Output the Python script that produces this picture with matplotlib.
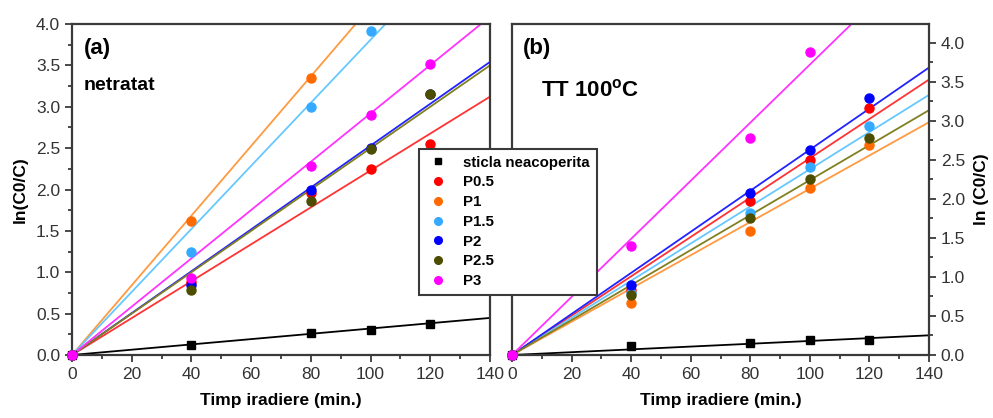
import matplotlib
matplotlib.use("Agg")
import matplotlib.pyplot as plt
from matplotlib.lines import Line2D
from matplotlib.ticker import MultipleLocator, FormatStrFormatter
import numpy as np

plt.rcParams['font.family'] = ['Liberation Sans', 'DejaVu Sans']
plt.rcParams['mathtext.fontset'] = 'custom'
plt.rcParams['mathtext.bf'] = 'Liberation Sans:bold'
plt.rcParams['mathtext.rm'] = 'Liberation Sans'

# ---------------- data ----------------
series = ["sticla neacoperita", "P0.5", "P1", "P1.5", "P2", "P2.5", "P3"]
colors = ["#000000", "#ff0000", "#ff6a00", "#33aaff", "#0000ff", "#4d4d00", "#ff00ff"]
line_colors = ["#000000", "#ff3333", "#ff9a40", "#66c8ff", "#2222ff", "#808020", "#ff33ff"]
markers = ["s", "o", "o", "o", "o", "o", "o"]

time_a = [0, 40, 80, 100, 120]
vals_a = {
    "sticla neacoperita": [0, 0.12, 0.27, 0.30, 0.38],
    "P0.5": [0, 0.88, 1.96, 2.25, 2.55],
    "P1": [0, 1.62, 3.35, None, None],
    "P1.5": [0, 1.24, 3.00, 3.91, None],
    "P2": [0, 0.85, 1.99, 2.50, 3.15],
    "P2.5": [0, 0.79, 1.86, 2.49, 3.15],
    "P3": [0, 0.93, 2.28, 2.90, 3.52],
}
slopes_a = [0.0032, 0.0223, 0.0421, 0.0381, 0.0253, 0.0250, 0.0292]

time_b = [0, 40, 80, 100, 120]
vals_b = {
    "sticla neacoperita": [0, 0.11, 0.15, 0.19, 0.19],
    "P0.5": [0, 0.83, 1.97, 2.50, 3.16],
    "P1": [0, 0.67, 1.59, 2.14, 2.69],
    "P1.5": [0, 0.80, 1.82, 2.41, 2.93],
    "P2": [0, 0.90, 2.07, 2.62, 3.29],
    "P2.5": [0, 0.77, 1.75, 2.26, 2.78],
    "P3": [0, 1.40, 2.78, 3.88, None],
}
slopes_b = [0.0018, 0.0252, 0.0213, 0.0238, 0.0263, 0.0224, 0.0372]

x_ticks = [0, 20, 40, 60, 80, 100, 120, 140]

# ---------------- figure ----------------
W, H = 993, 418
fig = plt.figure(figsize=(W / 100, H / 100), dpi=100)

def px_axes(x0, y0, x1, y1):
    return fig.add_axes([x0 / W, 1 - y1 / H, (x1 - x0) / W, (y1 - y0) / H])

ax_a = px_axes(72, 24, 490, 355)
ax_b = px_axes(512, 24, 929, 355)

spine_col = "#3a3a3a"
tick_col = "#333333"

def draw(ax, t, vals, slopes, ymax, right=False):
    xl = np.array([0, 140])
    for lc, s in zip(line_colors, slopes):
        ax.plot(xl, s * xl, color=lc, lw=1.3, zorder=2)
    for name, c, m in zip(series, colors, markers):
        xs = [tt for tt, v in zip(t, vals[name]) if v is not None]
        ys = [v for v in vals[name] if v is not None]
        ax.plot(xs, ys, linestyle="none", marker=m, color=c, ms=6.5 if m == "o" else 6,
                mec=c, zorder=3, clip_on=False)
    ax.set_xlim(0, 140)
    ax.set_ylim(0, ymax)
    ax.set_xticks(x_ticks)
    ax.xaxis.set_minor_locator(MultipleLocator(10))
    ax.yaxis.set_major_locator(MultipleLocator(0.5))
    ax.yaxis.set_minor_locator(MultipleLocator(0.25))
    for sp in ax.spines.values():
        sp.set_color(spine_col)
        sp.set_linewidth(1.6)
    ax.tick_params(which="both", direction="out", color=spine_col, width=1.3,
                   labelsize=12.5, labelcolor=tick_col, top=False)
    ax.tick_params(which="major", length=5)
    ax.tick_params(which="minor", length=3)
    if right:
        ax.yaxis.tick_right()
        ax.tick_params(axis="y", which="both", left=False, right=True)
    else:
        ax.tick_params(axis="y", which="both", right=False)
    ax.yaxis.set_major_formatter(FormatStrFormatter("%.1f"))
    ax.set_xlabel("Timp iradiere (min.)", fontsize=12.5, fontweight="bold", labelpad=8)

draw(ax_a, time_a, vals_a, slopes_a, 4.0)
draw(ax_b, time_b, vals_b, slopes_b, 4.24, right=True)

ax_a.set_ylabel("ln(C0/C)", fontsize=12.5, fontweight="bold", labelpad=6)
ax_b.yaxis.set_label_position("right")
ax_b.set_ylabel("ln (C0/C)", fontsize=12.5, fontweight="bold", labelpad=6, rotation=90)

ax_a.text(0.028, 0.925, "(a)", transform=ax_a.transAxes, fontsize=16, fontweight="bold",
          va="center", ha="left")
ax_a.text(0.028, 0.815, "netratat", transform=ax_a.transAxes, fontsize=14, fontweight="bold",
          va="center", ha="left")
ax_b.text(0.025, 0.925, "(b)", transform=ax_b.transAxes, fontsize=16, fontweight="bold",
          va="center", ha="left")
ax_b.text(0.07, 0.8, r"TT 100$^{\mathbf{o}}$C", transform=ax_b.transAxes, fontsize=16,
          fontweight="bold", va="center", ha="left")

handles = [Line2D([], [], linestyle="none", marker=m, color=c, mec=c, ms=5.5 if m == "o" else 5)
           for c, m in zip(colors, markers)]
leg = fig.legend(handles, series, loc="upper left", bbox_to_anchor=(419 / W, 1 - 149 / H),
                 borderaxespad=0, fancybox=False, framealpha=1, edgecolor=spine_col,
                 prop={"weight": "bold", "size": 10.8}, handletextpad=0.9, labelspacing=0.38,
                 borderpad=0.45, handlelength=1.6)
leg.get_frame().set_linewidth(1.5)
leg.set_zorder(10)

fig.savefig("out.png", dpi=100)
